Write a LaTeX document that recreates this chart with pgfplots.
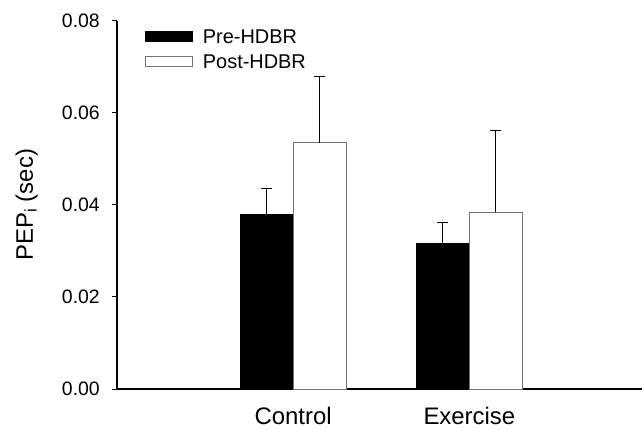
\documentclass[border=0pt]{standalone}
\usepackage{fontspec}
\setmainfont{Liberation Sans}
\usepackage{pgfplots}
\pgfplotsset{compat=1.18}
\begin{document}
\begin{tikzpicture}
\begin{axis}[
  scale only axis,
  width=525bp, height=368.3bp,
  xmin=0, xmax=2.98,
  ymin=0, ymax=0.08,
  axis x line=bottom, axis y line=left,
  axis line style={-, line width=1.1bp, black},
  ybar=0pt, bar width=53bp,
  xtick={1,2}, xticklabels={Control, Exercise},
  x tick style={draw=none},
  xticklabel style={anchor=base, yshift=-30bp, inner sep=0pt, font=\fontsize{24}{28}\selectfont},
  ytick={0,0.02,0.04,0.06,0.08},
  scaled y ticks=false,
  tick align=outside, major tick length=5bp,
  y tick style={line width=1bp, black},
  /pgf/number format/assume math mode=true,
  yticklabel style={/pgf/number format/.cd, fixed, fixed zerofill, precision=2, /tikz/.cd,
    font=\fontsize{19.5}{23}\selectfont, inner sep=0pt, xshift=-12bp},
  ylabel={PEP\textsubscript{i} (sec)},
  ylabel style={at={([xshift=-84bp]rel axis cs:0,0.5)}, anchor=base, font=\fontsize{24}{28}\selectfont},
  legend cell align=left,
  legend image code/.code={\draw[#1, line width=0.9bp] (0bp,-4bp) rectangle (47bp,6bp);},
  legend style={draw=none, fill=none, at={(rel axis cs:0.053,0.977)}, anchor=north west,
    inner sep=0pt, row sep=10bp, column sep=10bp, font=\fontsize{20}{24}\selectfont,
    nodes={inner sep=0pt}},
  error bars/y dir=plus, error bars/y explicit,
  error bars/error bar style={line width=1.1bp, black},
  error bars/error mark options={rotate=90, line width=1.1bp, black, mark size=5.5bp},
]
\coordinate (O) at (rel axis cs:0,0);
\addplot[fill=black, draw=black, line width=0.9bp] coordinates {
  (1,0.0380) +- (0,0.0055)
  (2,0.0316) +- (0,0.0045)
};
\addplot[fill=white, draw=black!55, line width=0.9bp] coordinates {
  (1,0.0535) +- (0,0.0144)
  (2,0.0384) +- (0,0.0177)
};
\legend{Pre-HDBR, Post-HDBR}
\end{axis}
\pgfresetboundingbox
\path (O) ++(-117bp,-41bp) rectangle ++(642bp,430bp);
\end{tikzpicture}
\end{document}
